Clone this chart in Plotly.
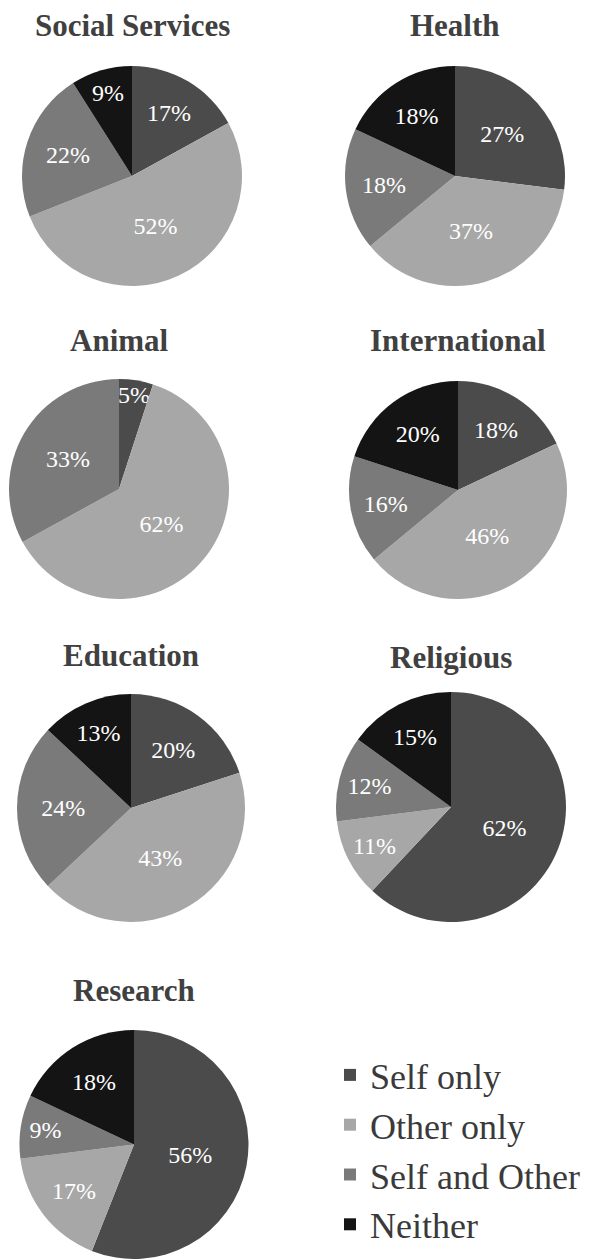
import plotly.graph_objects as go

categories = ["Self only", "Other only", "Self and Other", "Neither"]
colors = ["#4b4b4b", "#a7a7a7", "#7a7a7a", "#141414"]

sectors = ["Social Services", "Health", "Animal", "International",
           "Education", "Religious", "Research"]
values = {
    "Social Services": [17, 52, 22, 9],
    "Health": [27, 37, 18, 18],
    "Animal": [5, 62, 33, 0],
    "International": [18, 46, 16, 20],
    "Education": [20, 43, 24, 13],
    "Religious": [62, 11, 12, 15],
    "Research": [56, 17, 9, 18],
}

SERIF = "'Liberation Serif', 'DejaVu Serif', serif"

W, H = 614, 1259
# pie boxes in pixels: (left, right, top, bottom)
boxes = {
    "Social Services": (22, 242, 66, 286),
    "Health": (345, 565, 66, 286),
    "Animal": (9, 229, 379, 599),
    "International": (349, 567, 381, 599),
    "Education": (17, 245, 694, 922),
    "Religious": (336, 566, 692, 922),
    "Research": (18, 250, 1030, 1259),
}
title_y = {
    "Social Services": 25, "Health": 25, "Animal": 340, "International": 340,
    "Education": 655, "Religious": 657, "Research": 990,
}

fig = go.Figure()
annotations = []
for s in sectors:
    vals = values[s]
    labs = [c for c, v in zip(categories, vals) if v > 0]
    cols = [col for col, v in zip(colors, vals) if v > 0]
    vv = [v for v in vals if v > 0]
    l, r, t, b = boxes[s]
    fig.add_trace(go.Pie(
        labels=labs, values=vv, sort=False, direction="clockwise", rotation=0,
        marker=dict(colors=cols, line=dict(width=0)),
        texttemplate="%{value}%", textposition="inside",
        insidetextorientation="horizontal",
        textfont=dict(family=SERIF, size=24, color="white"),
        domain=dict(x=[l / W, r / W], y=[max(0, 1 - b / H), 1 - t / H]),
        hoverinfo="label+value", name=s,
    ))
    annotations.append(dict(
        text="<b>%s</b>" % s, x=(l + r) / 2 / W, y=1 - title_y[s] / H,
        xref="paper", yref="paper", xanchor="center", yanchor="middle",
        showarrow=False, font=dict(family=SERIF, size=31, color="#404040"),
    ))

fig.update_layout(
    width=W, height=H, margin=dict(l=0, r=0, t=0, b=0),
    paper_bgcolor="white", plot_bgcolor="white",
    font=dict(family=SERIF),
    annotations=annotations,
    showlegend=True,
    uniformtext=dict(minsize=24, mode="show"),
    legend=dict(x=330 / W, y=1 - 1045 / H, xanchor="left", yanchor="top",
                font=dict(family=SERIF, size=36, color="#3a3a3a"),
                traceorder="normal", bgcolor="rgba(0,0,0,0)"),
)

fig.write_html("out.html")
